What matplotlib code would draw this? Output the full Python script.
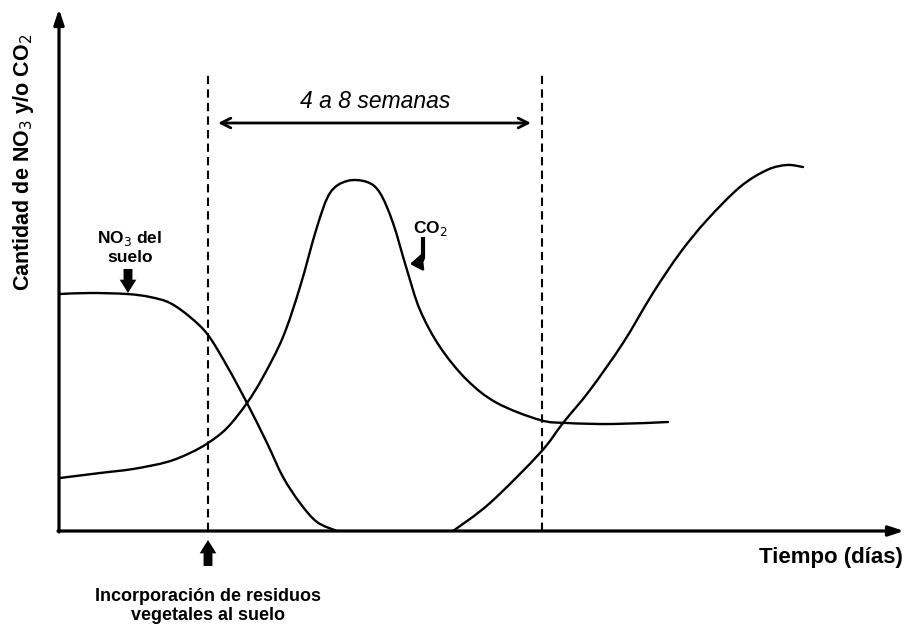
import matplotlib
matplotlib.use("Agg")
import matplotlib.pyplot as plt
import numpy as np
from matplotlib.path import Path
from matplotlib.patches import PathPatch

plt.rcParams['font.family'] = ['Liberation Sans', 'DejaVu Sans']

# Curves, read as (time, amount) in drawing units from the origin
no3_fall_t = [1, 31, 68, 91, 111, 131, 149, 168, 188, 208, 224, 241, 258, 278]
no3_fall_y = [237, 238, 237, 234, 228, 214, 196, 165, 128, 88, 54, 28, 9, 0]

no3_rise_t = [394, 431, 481, 504, 531, 564, 594, 621, 648, 681, 708, 728, 744]
no3_rise_y = [0, 28, 78, 108, 141, 188, 238, 278, 311, 344, 361, 366, 364]

co2_t = [1, 41, 74, 108, 131, 149, 168, 188, 204, 224, 241, 258, 271,
         288, 308, 321, 334, 348, 361, 381, 408, 438, 481, 508, 554, 609]
co2_y = [53, 58, 62, 69, 78, 88, 103, 128, 154, 194, 244, 304, 338,
         350, 349, 338, 308, 261, 221, 184, 151, 128, 111, 108, 107, 109]

# Vertical markers (incorporation of residues and end of the 4-8 week window)
mark_t = [149, 483]
mark_top = 459
window_label = '4 a 8 semanas'


def smooth_path(xs, ys):
    """Bezier path through the points (Catmull-Rom tangents)."""
    p = np.column_stack([xs, ys]).astype(float)
    ext = np.vstack([p[0], p, p[-1]])
    verts = [p[0]]
    codes = [Path.MOVETO]
    for i in range(len(p) - 1):
        a, b, c, d = ext[i], ext[i + 1], ext[i + 2], ext[i + 3]
        verts += [b + (c - a) / 6, c - (d - b) / 6, c]
        codes += [Path.CURVE4] * 3
    return Path(verts, codes)


fig = plt.figure(figsize=(9.05, 6.25), dpi=100, facecolor='white')
ax = fig.add_axes((0., 0., 1., 1.), frameon=False)
ax.set_xlim(-59, 846)
ax.set_ylim(-94, 531)
ax.set_xticks([])
ax.set_yticks([])

for xs, ys in [(no3_fall_t, no3_fall_y), (no3_rise_t, no3_rise_y), (co2_t, co2_y)]:
    ax.add_patch(PathPatch(smooth_path(xs, ys), fill=False, edgecolor='black',
                           lw=1.7, capstyle='round'))

for t in mark_t:
    ax.plot([t, t], [0, mark_top], color='black', lw=1.5,
            linestyle=(0, (4, 2.5)))

# axes with arrow heads
ax.annotate('', xy=(0, 522), xytext=(0, -1),
            arrowprops=dict(arrowstyle='-|>,head_length=0.9,head_width=0.3',
                            lw=2.3, color='black', shrinkA=0, shrinkB=0))
ax.annotate('', xy=(845, 0), xytext=(-1, 0),
            arrowprops=dict(arrowstyle='-|>,head_length=0.9,head_width=0.3',
                            lw=2.3, color='black', shrinkA=0, shrinkB=0))

# 4 a 8 semanas window
ax.annotate('', xy=(159, 408), xytext=(472, 408),
            arrowprops=dict(arrowstyle='<->,head_length=0.7,head_width=0.35',
                            lw=2.0, color='black', shrinkA=0, shrinkB=0))
ax.text((mark_t[0] + mark_t[1]) / 2, 430, window_label, ha='center',
        va='center', fontsize=16.5, style='italic')

ax.text(-35, 369, 'Cantidad de NO$_3$ y/o CO$_2$', rotation=90,
        ha='center', va='center', fontsize=15.5, fontweight='bold')
ax.text(844, -27, 'Tiempo (días)', ha='right', va='center', fontsize=16,
        fontweight='bold')

arrow_kw = dict(arrowstyle='simple,head_length=0.6,head_width=0.75,tail_width=0.4',
                color='black', lw=0, shrinkA=0, shrinkB=0, mutation_scale=16)

# incorporation of residues
ax.annotate('', xy=(149, -9), xytext=(149, -35), arrowprops=arrow_kw)
ax.text(149, -75, 'Incorporación de residuos\nvegetales al suelo', ha='center',
        va='center', fontsize=13, fontweight='bold', linespacing=1.2)

# NO3 label
ax.text(71, 284, 'NO$_3$ del\nsuelo', ha='center', va='center', fontsize=12.5,
        fontweight='bold', linespacing=1.2)
ax.annotate('', xy=(69, 238), xytext=(69, 262), arrowprops=arrow_kw)

# CO2 label with hooked arrow
ax.text(371, 303, 'CO$_2$', ha='center', va='center', fontsize=12.5,
        fontweight='bold')
ax.plot([364, 364, 362, 358], [294, 273, 269, 268], color='black', lw=3,
        solid_joinstyle='round', solid_capstyle='butt')
ax.annotate('', xy=(351, 267), xytext=(359, 268),
            arrowprops=dict(arrowstyle='-|>,head_length=0.5,head_width=0.35',
                            lw=2, color='black', shrinkA=0, shrinkB=0,
                            mutation_scale=14))

fig.savefig('out.png', dpi=100, facecolor='white')
